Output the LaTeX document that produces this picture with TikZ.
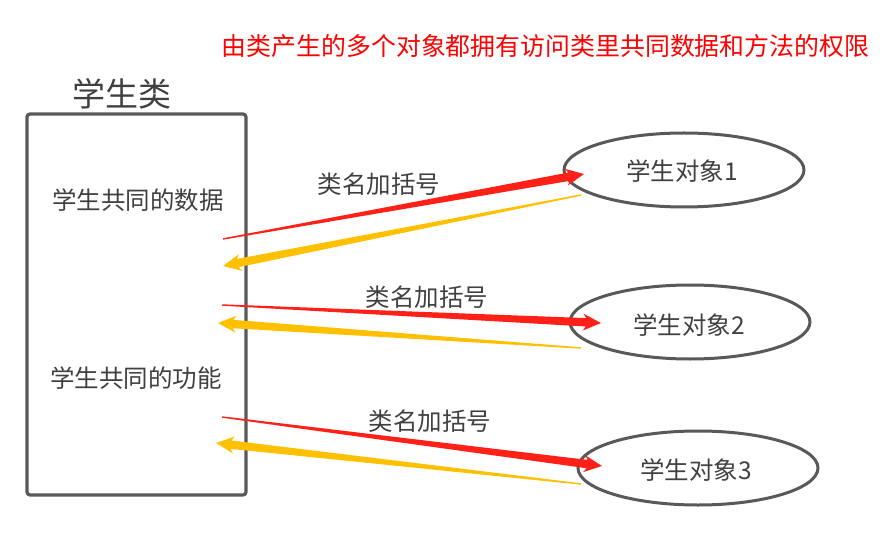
\documentclass[tikz,border=0pt]{standalone}
\usepackage{fontspec}
\setmainfont{Noto Sans CJK SC}
\usetikzlibrary{calc,shapes.geometric}
\definecolor{redarr}{HTML}{FF2117}
\definecolor{yelarr}{HTML}{FFC000}
\definecolor{edgegray}{HTML}{595959}
\definecolor{txtgray}{HTML}{404040}
\newcommand\taperarrow[3]{%
  \coordinate (tah) at ($(#2)!15pt!(#1)$);
  \coordinate (tab) at ($(#2)!18pt!(#1)$);
  \fill[#3] ($(#1)!0.7pt!90:(#2)$) -- ($(tah)!4.2pt!90:(#2)$) -- ($(tab)!8.5pt!90:(#2)$) -- (#2)
    -- ($(tab)!8.5pt!-90:(#2)$) -- ($(tah)!4.2pt!-90:(#2)$) -- ($(#1)!0.7pt!-90:(#2)$) -- cycle;}
\tikzset{
  lbl/.style={text=txtgray, font=\fontsize{24.5}{28}\selectfont, inner sep=0pt},
  objell/.style={ellipse, draw=edgegray, line width=3pt, minimum width=240pt, minimum height=74pt, inner sep=0pt},
}
\begin{document}
\begin{tikzpicture}[x=1pt,y=-1pt]
\useasboundingbox (0,0) rectangle (893,534);
\node[text=red, font=\fontsize{24.9}{28}\selectfont, inner sep=0pt] (title) at (545.5,46) {由类产生的多个对象都拥有访问类里共同数据和方法的权限};
\node[text=txtgray, font=\fontsize{33}{38}\selectfont, inner sep=0pt] (cls) at (122,94) {学生类};
\node[draw=edgegray, line width=3.2pt, rounded corners=3pt, minimum width=219pt, minimum height=381pt, inner sep=0pt] (box) at (136.5,304.5) {};
\node[lbl] (data) at (138,200) {学生共同的数据};
\node[lbl] (func) at (136,378) {学生共同的功能};
\node[objell] (o1) at (684,170) {};
\node[objell] (o2) at (690,322) {};
\node[objell] (o3) at (698,468) {};
\node[lbl] (t1) at (682,171) {学生对象1};
\node[lbl] (t2) at (689,325) {学生对象2};
\node[lbl] (t3) at (696,470) {学生对象3};
\node[lbl] (l1) at (379,184) {类名加括号};
\node[lbl] (l2) at (427,297) {类名加括号};
\node[lbl] (l3) at (430,421) {类名加括号};
\coordinate (r1s) at (223,239); \coordinate (r1e) at (584,174);
\coordinate (y1s) at (581,195); \coordinate (y1e) at (223,266);
\coordinate (r2s) at (222,305); \coordinate (r2e) at (601,323);
\coordinate (y2s) at (581,348); \coordinate (y2e) at (218,323);
\coordinate (r3s) at (222,417); \coordinate (r3e) at (602,466);
\coordinate (y3s) at (581,484); \coordinate (y3e) at (216,443);
\taperarrow{r1s}{r1e}{redarr}
\taperarrow{y1s}{y1e}{yelarr}
\taperarrow{r2s}{r2e}{redarr}
\taperarrow{y2s}{y2e}{yelarr}
\taperarrow{r3s}{r3e}{redarr}
\taperarrow{y3s}{y3e}{yelarr}
\end{tikzpicture}
\end{document}
